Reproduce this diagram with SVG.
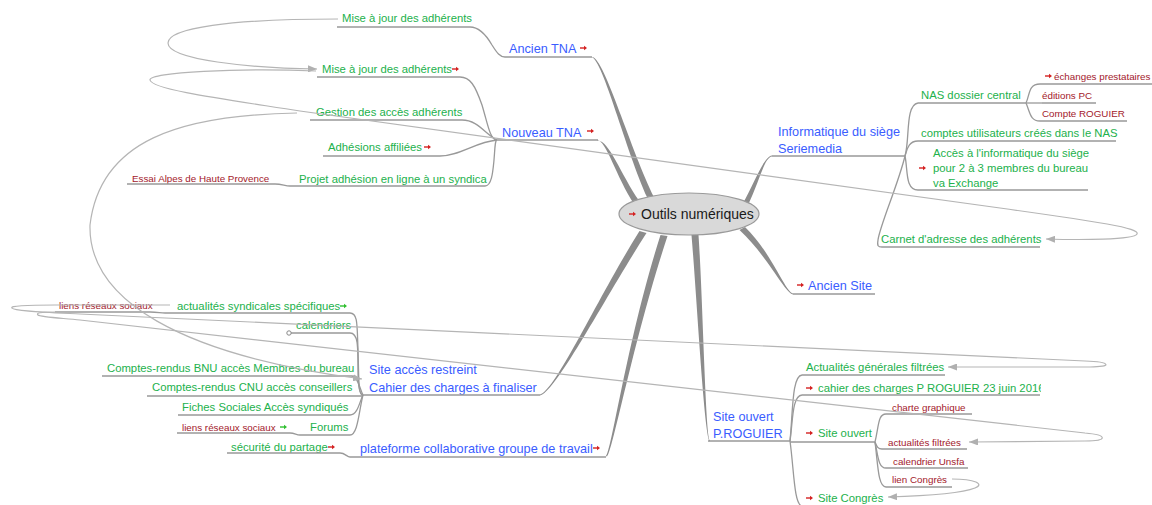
<svg xmlns="http://www.w3.org/2000/svg" xmlns:xlink="http://www.w3.org/1999/xlink" width="1152" height="505" viewBox="0 0 1152 505">
<defs>
<style>
text{font-family:"Liberation Sans",Arial,sans-serif}
.g{fill:#22b14c;font-size:11.3px}
.b{fill:#3a5dff;font-size:12.7px}
.r{fill:#a3192b;font-size:9.8px}
.c{fill:#1a1a1a;font-size:14px}
.ul{stroke:#999;stroke-width:1.3;fill:none}
.cn{stroke:#999;stroke-width:1.3;fill:none}
.br{fill:#8c8c8c}
.rel{stroke:#b5b5b5;stroke-width:1.2;fill:none}
</style>
<marker id="ah" markerUnits="userSpaceOnUse" markerWidth="9" markerHeight="7" viewBox="0 0 9 7" refX="9" refY="3.5" orient="auto">
<path d="M0,0L9,3.5L0,7Z" fill="#b0b0b0"/>
</marker>
<g id="ra"><path d="M0,0H4.5" stroke="#d42020" stroke-width="1.4"/><path d="M4,-2.3L7,0L4,2.3Z" fill="#d42020"/></g>
<g id="ga"><path d="M0,0H4.5" stroke="#2fbf2f" stroke-width="1.4"/><path d="M4,-2.3L7,0L4,2.3Z" fill="#2fbf2f"/></g>
<clipPath id="clipCahier"><rect x="800" y="375" width="241" height="25"/></clipPath>
</defs>
<rect width="1152" height="505" fill="#fff"/>

<g id="connectors">
<path class="br" d="M591.5,57 C603,60 625.5,150 647.5,198 L654.5,198 C630.5,150 605,60 592.5,57 Z"/>
<path class="br" d="M596.5,139.5 C607,141 615.5,176 634.5,204.7 L639.5,201.3 C620.5,174 609,140 597.5,140.5 Z"/>
<path class="br" d="M772,155.5 C763.5,157 756,180 742,205 L748,205 C760,180 764.5,157 772,156.5 Z"/>
<path class="br" d="M793,293.5 C785,291.5 772.5,254 745,227 L739.5,230 C767.5,256 784.5,292.5 793,294.5 Z"/>
<path class="br" d="M540,394.5 C555,391.5 597,299 639.5,231 L646.5,233 C603,301 555.5,392.5 540,395.5 Z"/>
<path class="br" d="M606,456 C611.5,452 627,340 660.5,235 L667.5,236 C633,341 612.5,452.5 607,456.5 Z"/>
<path class="br" d="M710,441.5 C704.5,440 697,300 691.5,235 L698.5,235 C703,300 705.5,440 710,440.5 Z"/>

<path class="cn" d="M470,27 C478,27 485,33 492,45 C497,53 500,57 505,57"/>
<path class="cn" d="M460,77 C470,77 475,85 482,105 C488,125 490,140 497,140"/>
<path class="cn" d="M462,120 C478,120 485,134 497,140"/>
<path class="cn" d="M440,156 C460,156 475,142 497,140"/>
<path class="cn" d="M485,186 C492,186 493,170 494,160 C495,148 495,140 497,140"/>
<path class="cn" d="M275,184 C282,184 285,186 290,186"/>
<path class="cn" d="M905,156 C910,140 905,105 918,103"/>
<path class="cn" d="M905,156 C907,150 908,141 918,141"/>
<path class="cn" d="M905,156 C908,170 905,190 918,190"/>
<path class="cn" d="M905,156 C898,185 880,225 878,240 C877,246 878,247 882,247"/>
<path class="cn" d="M1026,103 C1030,95 1028,84 1040,84"/>
<path class="cn" d="M1026,103 H1042"/>
<path class="cn" d="M1026,103 C1030,112 1030,121 1040,121"/>
<path class="cn" d="M350,313 C358,313 357,325 358,350 C359,380 358,395 363,395"/>
<path class="cn" d="M150,312 C158,312 160,313 165,313"/>
<path class="cn" d="M350,333 C358,333 358,345 358,370 C358,388 360,395 363,395"/>
<path class="cn" d="M352,376 C358,376 360,390 363,395"/>
<path class="cn" d="M350,415 C358,415 360,400 363,395"/>
<path class="cn" d="M350,435 C358,435 359,410 363,395"/>
<path class="cn" d="M290,433 C295,433 296,435 300,435"/>
<path class="cn" d="M340,453 C345,453 347,457 350,457"/>
<path class="cn" d="M790,441 C793,410 792,376 802,375"/>
<path class="cn" d="M790,441 C793,420 792,396 802,395"/>
<path class="cn" d="M790,441 C794,470 794,505 802,506"/>
<path class="cn" d="M875,442 C879,425 878,414 886,414"/>
<path class="cn" d="M875,442 C877,447 878,449 882,449"/>
<path class="cn" d="M875,442 C878,455 878,468 886,468"/>
<path class="cn" d="M875,442 C878,465 878,487 886,487"/>
</g>

<g id="center">
<ellipse cx="689" cy="214" rx="70" ry="21" fill="#d9d9d9" stroke="#9a9a9a" stroke-width="1.2"/>
<use href="#ra" x="629" y="214"/>
<text class="c" x="641" y="219">Outils numériques</text>
</g>

<g id="ancien-tna">
<text class="b" x="509" y="52.5">Ancien TNA</text>
<use href="#ra" x="580" y="48"/>
<path class="ul" d="M505,57H592"/>
</g>
<g id="ancien-tna-maj">
<text class="g" x="342" y="22">Mise à jour des adhérents</text>
<path class="ul" d="M337,27H470"/>
</g>

<g id="nouveau-tna">
<text class="b" x="502" y="136.5">Nouveau TNA</text>
<use href="#ra" x="587" y="131"/>
<path class="ul" d="M497,140H598"/>
</g>
<g id="nouveau-tna-maj">
<text class="g" x="322" y="73">Mise à jour des adhérents</text>
<use href="#ra" x="452" y="69"/>
<path class="ul" d="M317,77H460"/>
</g>
<g id="gestion-acces">
<text class="g" x="316" y="116">Gestion des accès adhérents</text>
<path class="ul" d="M310,120H462"/>
</g>
<g id="adhesions-affiliees">
<text class="g" x="328" y="151">Adhésions affiliées</text>
<use href="#ra" x="424" y="147"/>
<path class="ul" d="M323,156H440"/>
</g>
<g id="projet-adhesion">
<text class="g" x="299" y="183">Projet adhésion en ligne à un syndica</text>
<path class="ul" d="M290,186H485"/>
</g>
<g id="essai-alpes">
<text class="r" x="132" y="181.5">Essai Alpes de Haute Provence</text>
<path class="ul" d="M127,184H275"/>
</g>

<g id="informatique-siege">
<text class="b" x="778"><tspan x="778" y="135.5">Informatique du siège</tspan><tspan x="778" y="152.5">Seriemedia</tspan></text>
<path class="ul" d="M772,156H905"/>
</g>
<g id="nas">
<text class="g" x="921" y="99">NAS dossier central</text>
<path class="ul" d="M918,103H1026"/>
</g>
<g id="echanges">
<use href="#ra" x="1045" y="76"/>
<text class="r" x="1054" y="79.5">échanges prestataires</text>
<path class="ul" d="M1040,84H1152"/>
</g>
<g id="editions">
<text class="r" x="1042" y="98.5">éditions PC</text>
<path class="ul" d="M1042,103H1096"/>
</g>
<g id="compte-roguier">
<text class="r" x="1042" y="117">Compte ROGUIER</text>
<path class="ul" d="M1040,121H1127"/>
</g>
<g id="comptes-utilisateurs">
<text class="g" x="921" y="137">comptes utilisateurs créés dans le NAS</text>
<path class="ul" d="M918,141H1116"/>
</g>
<g id="acces-informatique">
<use href="#ra" x="919" y="168"/>
<text class="g"><tspan x="933" y="157">Accès à l'informatique du siège</tspan><tspan x="933" y="172">pour 2 à 3 membres du bureau</tspan><tspan x="933" y="186.5">va Exchange</tspan></text>
<path class="ul" d="M918,190H1088"/>
</g>
<g id="carnet">
<text class="g" x="881" y="243">Carnet d'adresse des adhérents</text>
<path class="ul" d="M882,247H1040"/>
</g>

<g id="ancien-site">
<use href="#ra" x="797" y="285"/>
<text class="b" x="808" y="289.5">Ancien Site</text>
<path class="ul" d="M793,294H875"/>
</g>

<g id="site-acces-restreint">
<text class="b"><tspan x="369" y="373.5">Site accès restreint</tspan><tspan x="369" y="391.5">Cahier des charges à finaliser</tspan></text>
<path class="ul" d="M363,395H540"/>
</g>
<g id="actualites-syndicales">
<text class="g" x="177" y="310">actualités syndicales spécifiques</text>
<use href="#ga" x="340" y="306"/>
<path class="ul" d="M165,313H350"/>
</g>
<g id="liens-reseaux-1">
<text class="r" x="59" y="308.5">liens réseaux sociaux</text>
<path class="ul" d="M55,312H150"/>
</g>
<g id="calendriers">
<text class="g" x="296" y="329">calendriers</text>
<path class="ul" d="M291,333H350"/>
<circle cx="289" cy="333" r="2.2" fill="#fff" stroke="#888" stroke-width="1"/>
</g>
<g id="cr-bnu">
<text class="g" x="107" y="372">Comptes-rendus BNU accès Membres du bureau</text>
<path class="ul" d="M102,376H352"/>
</g>
<g id="cr-cnu">
<text class="g" x="152" y="391">Comptes-rendus CNU accès conseillers</text>
<path class="ul" d="M147,396H363"/>
</g>
<g id="fiches-sociales">
<text class="g" x="182" y="411">Fiches Sociales Accès syndiqués</text>
<path class="ul" d="M178,415H350"/>
</g>
<g id="forums">
<text class="g" x="310" y="431">Forums</text>
<path class="ul" d="M300,435H350"/>
</g>
<g id="liens-reseaux-2">
<text class="r" x="182" y="430.5">liens réseaux sociaux</text>
<use href="#ga" x="280" y="427"/>
<path class="ul" d="M177,433H290"/>
</g>

<g id="plateforme">
<text class="b" x="360" y="452.5">plateforme collaborative groupe de travail</text>
<use href="#ra" x="593" y="448"/>
<path class="ul" d="M350,457H606"/>
</g>
<g id="securite">
<text class="g" x="231" y="451">sécurité du partage</text>
<use href="#ra" x="328" y="447"/>
<path class="ul" d="M227,453H340"/>
</g>

<g id="site-ouvert-proguier">
<text class="b"><tspan x="713" y="420.5">Site ouvert</tspan><tspan x="713" y="437.5">P.ROGUIER</tspan></text>
<path class="ul" d="M708,441H790"/>
</g>
<g id="actualites-generales">
<text class="g" x="806" y="371">Actualités générales filtrées</text>
<path class="ul" d="M802,375H945"/>
</g>
<g id="cahier-roguier">
<use href="#ra" x="806" y="388"/>
<text class="g" x="818" y="392" clip-path="url(#clipCahier)">cahier des charges P ROGUIER 23 juin 2016</text>
<path class="ul" d="M802,395H1040"/>
</g>
<g id="site-ouvert">
<use href="#ra" x="806" y="433"/>
<text class="g" x="818" y="437">Site ouvert</text>
<path class="ul" d="M790,442H875"/>
</g>
<g id="charte">
<text class="r" x="892" y="410.5">charte graphique</text>
<path class="ul" d="M886,414H972"/>
</g>
<g id="actualites-filtrees">
<text class="r" x="888" y="445.5">actualités filtrées</text>
<path class="ul" d="M882,449H967"/>
</g>
<g id="calendrier-unsfa">
<text class="r" x="893" y="464.5">calendrier Unsfa</text>
<path class="ul" d="M886,468H968"/>
</g>
<g id="lien-congres">
<text class="r" x="892" y="482.5">lien Congrès</text>
<path class="ul" d="M886,487H952"/>
</g>
<g id="site-congres">
<use href="#ra" x="806" y="498"/>
<text class="g" x="818" y="502">Site Congrès</text>
<path class="ul" d="M802,506H885"/>
</g>

<g id="relationships">
<path class="rel" marker-end="url(#ah)" d="M338,19 C230,19 168,28 168,43 C168,60 250,68 317,69"/>
<path class="rel" marker-end="url(#ah)" d="M316,71 C240,68 148,72 150,80 C152,90 230,100 300,111 L1000,208 C1100,222 1140,228 1137,234 C1134,240 1080,240 1046,239"/>
<path class="rel" marker-end="url(#ah)" d="M297,113 C180,115 100,140 90,225 C88,300 180,355 362,379"/>
<path class="rel" marker-end="url(#ah)" d="M170,305 L55,305 C25,305 10,306 12,308 C14,311 40,312 80,314 L1085,361 C1112,362 1112,367 1090,367 L948,367"/>
<path class="rel" marker-end="url(#ah)" d="M55,312 C40,312 36,313 38,315 C40,317 60,318 80,320 L1085,433 C1108,435 1108,441 1085,441 L969,442"/>
<path class="rel" marker-end="url(#ah)" d="M952,479 C975,479 985,484 975,488 C960,494 920,496 888,497"/>
</g>
</svg>
